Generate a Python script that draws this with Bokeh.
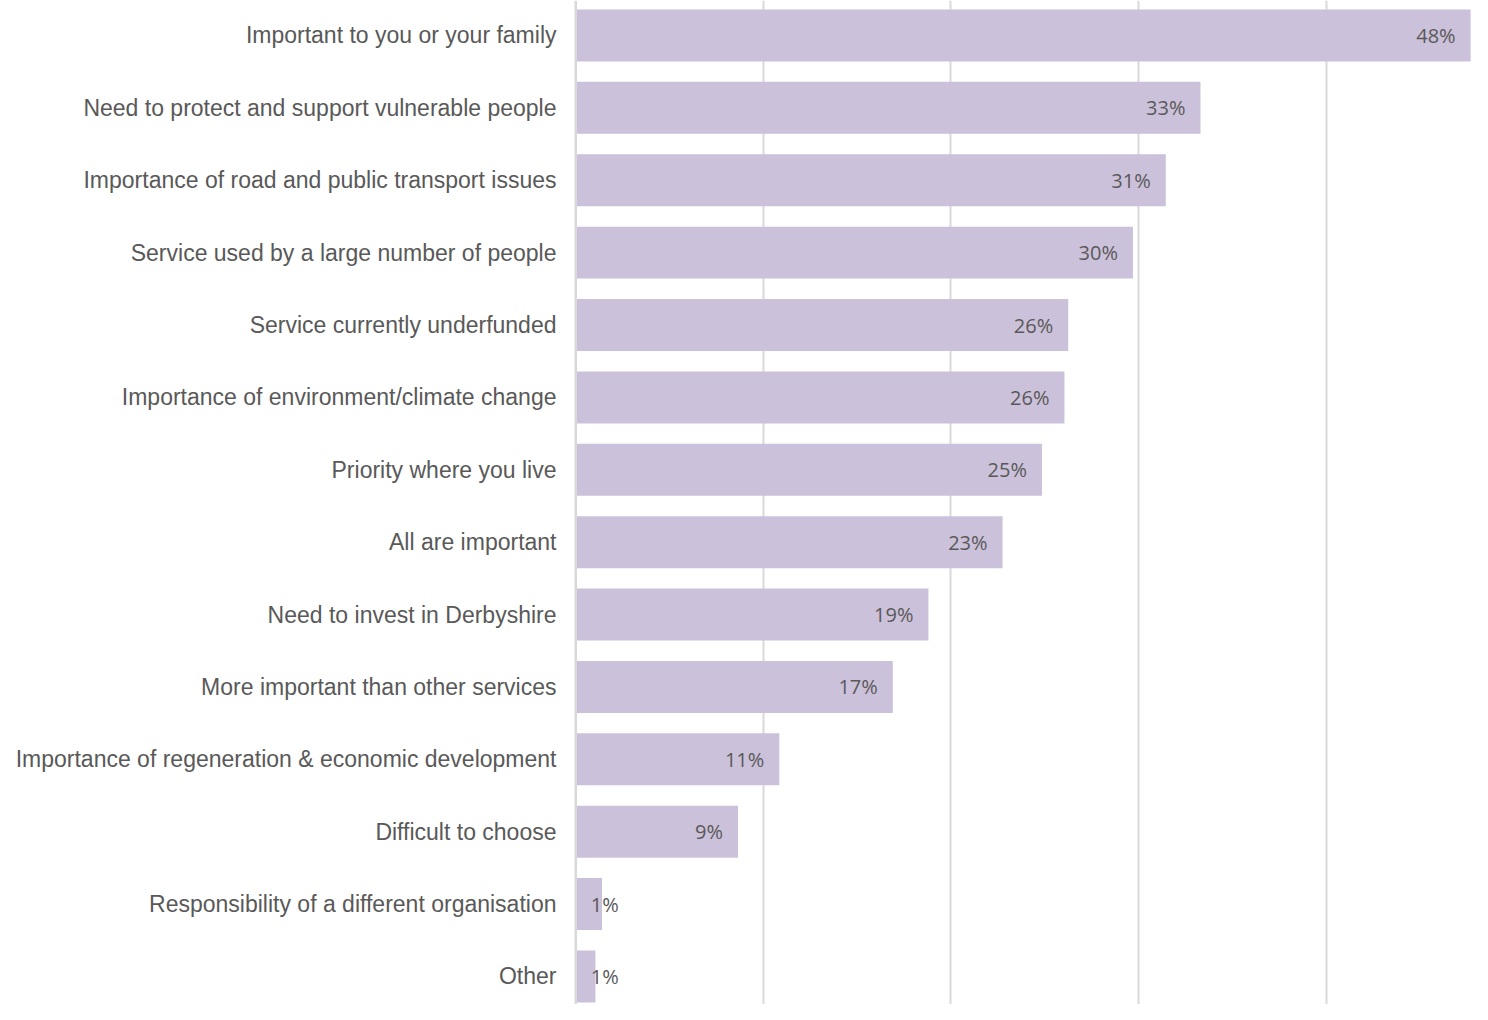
from bokeh.plotting import figure
from bokeh.models import ColumnDataSource, Range1d, FixedTicker, Span
from bokeh.core.properties import value
from bokeh.embed import file_html
from bokeh.resources import INLINE

categories = [
    "Important to you or your family",
    "Need to protect and support vulnerable people",
    "Importance of road and public transport issues",
    "Service used by a large number of people",
    "Service currently underfunded",
    "Importance of environment/climate change",
    "Priority where you live",
    "All are important",
    "Need to invest in Derbyshire",
    "More important than other services",
    "Importance of regeneration & economic development",
    "Difficult to choose",
    "Responsibility of a different organisation",
    "Other",
]
percent = [47.7, 33.3, 31.45, 29.7, 26.25, 26.05, 24.85, 22.75, 18.8, 16.9, 10.85, 8.65, 1.4, 1.05]
labels = ["48%", "33%", "31%", "30%", "26%", "26%", "25%", "23%", "19%", "17%", "11%", "9%", "1%", "1%"]

ypos = list(range(len(categories)))
big = [i for i, v in enumerate(percent) if v >= 5]
small = [i for i, v in enumerate(percent) if v < 5]

src = ColumnDataSource(dict(y=ypos, x=percent, lab=labels))
src_big = ColumnDataSource(dict(y=[ypos[i] for i in big], x=[percent[i] for i in big], lab=[labels[i] for i in big]))
src_small = ColumnDataSource(dict(y=[ypos[i] for i in small], x=[0 for i in small], lab=[labels[i] for i in small]))

p = figure(width=1472, height=1004, output_backend="svg", toolbar_location=None,
           x_range=Range1d(-0.12, 47.8), y_range=Range1d(13.387, -0.483),
           min_border_left=573, min_border_right=0, min_border_top=0, min_border_bottom=0)
p.outline_line_color = None
p.background_fill_color = "white"
p.border_fill_color = "white"

p.hbar(y="y", right="x", left=0, height=0.718, source=src, fill_color="#CCC1DA", line_color=None)
p.add_layout(Span(location=0, dimension="height", line_color="#D9D9D9", line_width=2.5, level="overlay"))

p.text(x="x", y="y", text="lab", source=src_big, x_offset=-15, text_align="right",
       text_baseline="middle", text_font=value("Open Sans"), text_font_size="20px", text_color="#595959")
p.text(x="x", y="y", text="lab", source=src_small, x_offset=15, text_align="left",
       text_baseline="middle", text_font=value("Open Sans"), text_font_size="20px", text_color="#595959")

p.xaxis.visible = False
p.xgrid.ticker = FixedTicker(ticks=[10, 20, 30, 40])
p.xgrid.grid_line_color = "#D9D9D9"
p.xgrid.grid_line_width = 2
p.ygrid.visible = False

p.yaxis.ticker = FixedTicker(ticks=ypos)
p.yaxis.major_label_overrides = {i: c for i, c in zip(ypos, categories)}
p.yaxis.axis_line_color = None
p.yaxis.major_tick_line_color = None
p.yaxis.minor_tick_line_color = None
p.yaxis.major_tick_out = 0
p.yaxis.major_tick_in = 0
p.yaxis.major_label_standoff = 17
p.yaxis.major_label_text_font = "Liberation Sans"
p.yaxis.major_label_text_font_size = "23px"
p.yaxis.major_label_text_color = "#595959"

open("out.html", "w").write(file_html(p, INLINE))
